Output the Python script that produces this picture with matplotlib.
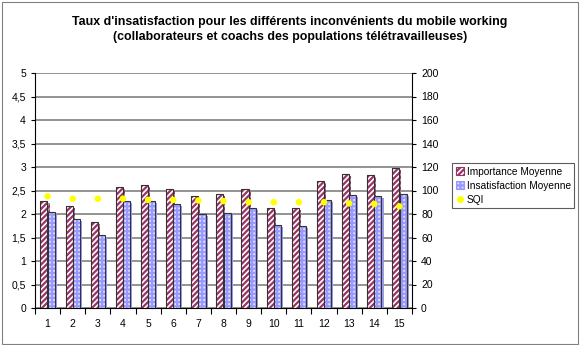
import matplotlib
matplotlib.use("Agg")
import matplotlib.pyplot as plt
import matplotlib.patheffects as pe
import numpy as np
from matplotlib.patches import Rectangle, Patch
from matplotlib.lines import Line2D

categories = list(range(1, 16))
importance = [2.28, 2.18, 1.84, 2.57, 2.61, 2.54, 2.38, 2.42, 2.53, 2.13, 2.13, 2.71, 2.86, 2.84, 2.97]
insatisfaction = [2.04, 1.90, 1.55, 2.27, 2.28, 2.21, 2.00, 2.03, 2.13, 1.76, 1.74, 2.29, 2.40, 2.38, 2.43]
sqi = [95, 93, 93, 93, 92, 92, 91.5, 91, 90, 90, 90, 90, 89, 88.5, 86.5]
left_ticks = [0, 0.5, 1, 1.5, 2, 2.5, 3, 3.5, 4, 4.5, 5]
left_labels = ["0", "0,5", "1", "1,5", "2", "2,5", "3", "3,5", "4", "4,5", "5"]
right_ticks = list(range(0, 201, 20))

plt.rcParams['font.family'] = ['Liberation Sans', 'DejaVu Sans']
W, H = 580, 345
fig = plt.figure(figsize=(W / 100, H / 100), dpi=100)
fig.patches.append(Rectangle((0.003, 0.003), 0.994, 0.992, transform=fig.transFigure,
                             fill=False, edgecolor='#808080', lw=0.8))

ax = fig.add_axes([35 / W, 1 - 308 / H, (412 - 35) / W, (308 - 73) / H])
x = np.arange(len(categories))
bw = 0.28
off = 0.145

plt.rcParams['hatch.linewidth'] = 1.6
shadow = [pe.SimplePatchShadow(offset=(1.5, -1.5), shadow_rgbFace='#909090', alpha=0.8), pe.Normal()]
ax.bar(x - off, importance, bw, facecolor='white', edgecolor='#993366', hatch='//////', lw=0,
       zorder=3, path_effects=shadow)
ax.bar(x - off, importance, bw, fill=False, edgecolor='#333333', lw=0.8, zorder=4)
ax.bar(x + off, insatisfaction, bw, facecolor='#e0e0ff', edgecolor='#9999ff', hatch='++++', lw=0,
       zorder=3, path_effects=shadow)
ax.bar(x + off, insatisfaction, bw, fill=False, edgecolor='#333333', lw=0.8, zorder=4)

ax.set_xlim(-0.5, len(categories) - 0.5)
ax.set_ylim(0, 5)
ax.set_yticks(left_ticks)
ax.set_yticklabels(left_labels)
ax.yaxis.grid(True, color='#808080', lw=1.2, zorder=0)
ax.set_axisbelow(True)
ax.set_xticks(x)
ax.set_xticklabels([str(c) for c in categories])
ax.tick_params(axis='x', length=0, labelsize=7.5, pad=8)
ax.set_xticks(np.arange(-0.5, len(categories), 1), minor=True)
ax.tick_params(axis='x', which='minor', length=4, width=0.8, direction='out')
ax.tick_params(axis='y', labelsize=7.5, length=3, width=0.8)
ax.spines['top'].set_visible(False)
ax.spines['right'].set_visible(False)
ax.spines['left'].set_color('black')
ax.spines['bottom'].set_color('black')

ax2 = ax.twinx()
ax2.scatter(x, sqi, s=22, color='#ffff00', zorder=5, edgecolors='none')
ax2.set_ylim(0, 200)
ax2.set_yticks(right_ticks)
ax2.tick_params(axis='y', labelsize=7.5, length=3, width=0.8)
ax2.spines['top'].set_visible(False)
ax2.spines['left'].set_visible(False)
ax2.spines['bottom'].set_visible(False)

fig.text(290 / W, 1 - 22 / H, "Taux d'insatisfaction pour les différents inconvénients du mobile working",
         ha='center', va='center', fontsize=8.9, fontweight='bold')
fig.text(290 / W, 1 - 37 / H, "(collaborateurs et coachs des populations télétravailleuses)",
         ha='center', va='center', fontsize=8.9, fontweight='bold')

handles = [Patch(facecolor='white', edgecolor='#993366', hatch='//////', lw=0.8),
           Patch(facecolor='#e0e0ff', edgecolor='#9999ff', hatch='++++', lw=0.8),
           Line2D([], [], marker='o', color='none', markerfacecolor='#ffff00',
                  markeredgecolor='none', markersize=5)]
leg = fig.legend(handles, ["Importance Moyenne", "Insatisfaction Moyenne", "SQI"],
                 loc='upper left', bbox_to_anchor=(452 / W, 1 - 163 / H),
                 fontsize=7.3, frameon=True, fancybox=False, edgecolor='#333333',
                 handlelength=0.8, handleheight=0.8, handletextpad=0.3,
                 borderpad=0.35, labelspacing=0.4, borderaxespad=0)
leg.get_frame().set_linewidth(0.8)

fig.savefig("out.png", dpi=100)
